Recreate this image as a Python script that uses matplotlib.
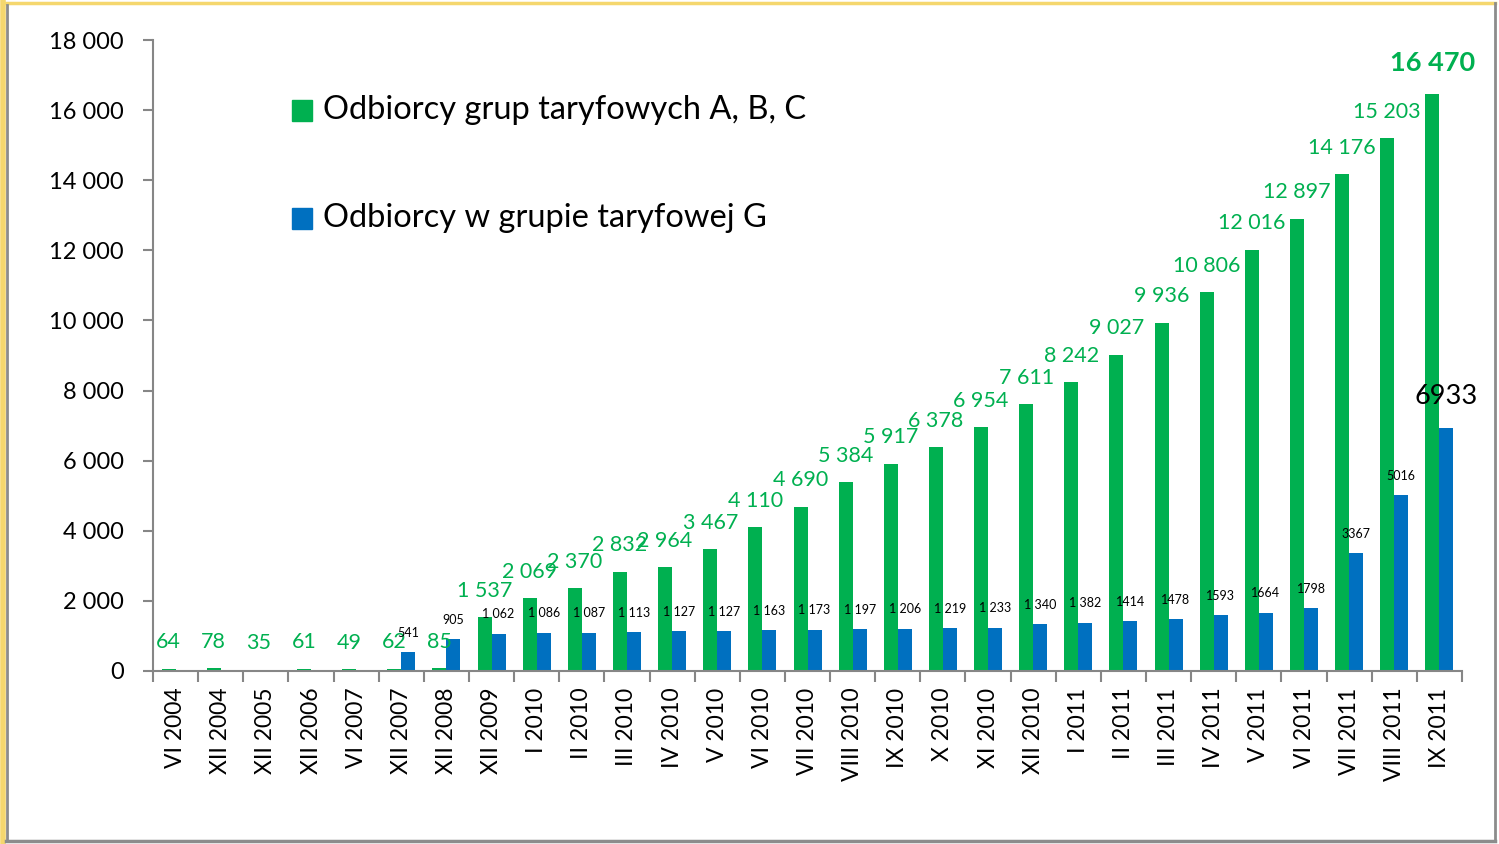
import numpy as np
import matplotlib
matplotlib.use("Agg")
import matplotlib.pyplot as plt
from matplotlib.lines import Line2D
from matplotlib.patches import Rectangle

plt.rcParams['font.family'] = ['Lato', 'DejaVu Sans']

categories = ['VI 2004', 'XII 2004', 'XII 2005', 'XII 2006', 'VI 2007', 'XII 2007',
              'XII 2008', 'XII 2009', 'I 2010', 'II 2010', 'III 2010', 'IV 2010',
              'V 2010', 'VI 2010', 'VII 2010', 'VIII 2010', 'IX 2010', 'X 2010',
              'XI 2010', 'XII 2010', 'I 2011', 'II 2011', 'III 2011', 'IV 2011',
              'V 2011', 'VI 2011', 'VII 2011', 'VIII 2011', 'IX 2011']
abc = [64, 78, 35, 61, 49, 62, 85, 1537, 2069, 2370, 2832, 2964, 3467, 4110,
       4690, 5384, 5917, 6378, 6954, 7611, 8242, 9027, 9936, 10806, 12016,
       12897, 14176, 15203, 16470]
g = [0, 0, 0, 0, 0, 541, 905, 1062, 1086, 1087, 1113, 1127, 1127, 1163, 1173,
     1197, 1206, 1219, 1233, 1340, 1382, 1414, 1478, 1593, 1664, 1798, 3367,
     5016, 6933]
abc_labels = ['64', '78', '35', '61', '49', '62', '85', '1 537', '2 069', '2 370',
              '2 832', '2 964', '3 467', '4 110', '4 690', '5 384', '5 917',
              '6 378', '6 954', '7 611', '8 242', '9 027', '9 936', '10 806',
              '12 016', '12 897', '14 176', '15 203', '16 470']
g_labels = ['', '', '', '', '', '541', '905', '1 062', '1 086', '1 087', '1 113',
            '1 127', '1 127', '1 163', '1 173', '1 197', '1 206', '1 219',
            '1 233', '1 340', '1 382', '1414', '1478', '1593', '1664', '1798',
            '3367', '5016', '6933']
yticks = [0, 2000, 4000, 6000, 8000, 10000, 12000, 14000, 16000, 18000]

GREEN = '#00B050'
BLUE = '#0070C0'

fig = plt.figure(figsize=(14.99, 8.44), dpi=100)
ax = fig.add_axes([0.1021, 0.2050, 0.8732, 0.7476])

x = np.arange(len(categories))
w = 0.31
ax.bar(x - w / 2, abc, w, color=GREEN)
ax.bar(x + w / 2, g, w, color=BLUE)

n = len(categories)
for i in range(n):
    if i == n - 1:
        ax.annotate(abc_labels[i], (x[i] - w / 2, abc[i]), xytext=(0, 22),
                    textcoords='offset points', ha='center', va='center',
                    color=GREEN, fontsize=19.5, fontweight='bold')
    else:
        ax.annotate(abc_labels[i], (x[i] - w / 2, abc[i]), xytext=(0, 19),
                    textcoords='offset points', ha='center', va='center',
                    color=GREEN, fontsize=15.5)
    if g_labels[i]:
        if i == n - 1:
            ax.annotate(g_labels[i], (x[i] + w / 2, g[i]), xytext=(0, 23),
                        textcoords='offset points', ha='center', va='center',
                        color='black', fontsize=19.5)
        else:
            ax.annotate(g_labels[i], (x[i] + w / 2, g[i]), xytext=(0, 14),
                        textcoords='offset points', ha='center', va='center',
                        color='black', fontsize=9)

ax.set_xlim(-0.5, n - 0.5)
ax.set_ylim(0, 18000)
ax.set_yticks(yticks)
ax.set_yticklabels([f'{v:,}'.replace(',', ' ') for v in yticks], fontsize=17)
ax.set_xticks(np.arange(-0.5, n, 1.0))
ax.set_xticklabels([])
ax.set_xticks(x, minor=True)
ax.set_xticklabels(categories, minor=True, rotation=90, fontsize=16.5)
ax.tick_params(axis='x', which='minor', length=0, pad=12)
ax.tick_params(axis='x', which='major', length=8, color='#868686', width=1.5)
ax.tick_params(axis='y', length=7, color='#868686', width=1.5, pad=14)
for s in ['top', 'right']:
    ax.spines[s].set_visible(False)
for s in ['left', 'bottom']:
    ax.spines[s].set_color('#868686')
    ax.spines[s].set_linewidth(1.5)

# legend drawn like the original, markers and text inside the plot
fig.add_artist(Rectangle((292 / 1499, 1 - 121 / 844), 20 / 1499, 21 / 844,
                         transform=fig.transFigure, color=GREEN))
fig.add_artist(Rectangle((292 / 1499, 1 - 229 / 844), 20 / 1499, 21 / 844,
                         transform=fig.transFigure, color=BLUE))
fig.text(323 / 1499, 1 - 110 / 844, 'Odbiorcy grup taryfowych A, B, C',
         fontsize=23.5, va='center', ha='left')
fig.text(323 / 1499, 1 - 218 / 844, 'Odbiorcy w grupie taryfowej G',
         fontsize=23.5, va='center', ha='left')

# outer frame
fig.add_artist(Line2D([0.002, 0.002], [0, 1], transform=fig.transFigure,
                      color='#F5D76E', lw=4))
fig.add_artist(Line2D([0.004, 0.997], [0.996, 0.996], transform=fig.transFigure,
                      color='#F5D76E', lw=2.5))
fig.add_artist(Line2D([0.0045, 0.0045], [0.004, 0.994], transform=fig.transFigure,
                      color='#8C8C8C', lw=2))
fig.add_artist(Line2D([0.997, 0.997], [0.004, 0.996], transform=fig.transFigure,
                      color='#8C8C8C', lw=2))
fig.add_artist(Line2D([0.004, 0.997], [0.004, 0.004], transform=fig.transFigure,
                      color='#8C8C8C', lw=2.5))

fig.savefig('out.png', dpi=100)
